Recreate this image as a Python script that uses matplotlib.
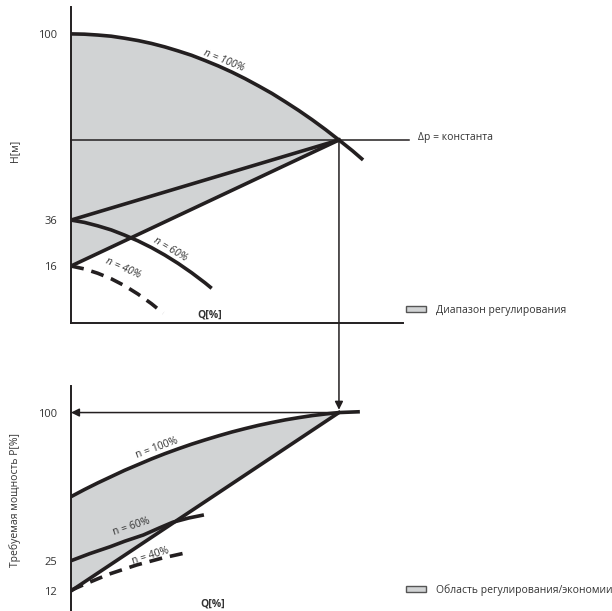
import matplotlib
matplotlib.use("Agg")
import matplotlib.pyplot as plt
import numpy as np
from matplotlib.patches import Patch, ConnectionPatch

plt.rcParams['font.family'] = ['Open Sans', 'DejaVu Sans']

# ---- top panel: head H vs flow Q (schematic, Q in % of operating point) ----
q_n100 = [0, 5, 10, 15, 20, 25, 30, 35, 40, 45, 50, 55, 60, 65, 70, 75, 80,
          85, 90, 95, 100, 105, 109]
h_n100 = [100, 99.9, 99.6, 99.2, 98.5, 97.7, 96.7, 95.5, 94.1, 92.6, 90.8,
          88.9, 86.8, 84.5, 82.0, 79.4, 76.5, 73.5, 70.3, 66.9, 63.3, 59.6, 56.4]
q_n60 = [0, 5, 10, 15, 20, 25, 30, 35, 40, 45, 50, 52.5]
h_n60 = [35.6, 34.8, 33.6, 32.2, 30.4, 28.4, 26.1, 23.5, 20.6, 17.4, 13.9, 12.0]
q_n40 = [0, 5, 10, 15, 20, 25, 30, 34.4]
h_n40 = [19.7, 18.7, 17.2, 15.3, 12.9, 10.0, 6.7, 3.4]
q_op, h_op = 100, 63.3          # operating point (dp = const)
h_upper_start = 35.6            # start of upper control line
h_lower_start = 19.7            # start of lower control line
h_ticks = [100, 35.6, 19.7]
h_ticklabels = ['100', '36', '16']

# ---- bottom panel: power P vs flow Q ----
q_p100 = [0, 5, 10, 15, 20, 25, 30, 35, 40, 45, 50, 55, 60, 65, 70, 75, 80,
          85, 90, 95, 100, 107.8]
p_p100 = [58.5, 62.0, 65.3, 68.4, 71.5, 74.3, 77.1, 79.7, 82.1, 84.4, 86.5,
          88.5, 90.4, 92.1, 93.7, 95.1, 96.4, 97.5, 98.5, 99.3, 100, 100.4]
q_p60 = [0, 7, 14.6, 20, 27.0, 33, 38.0, 44, 49.6]
p_p60 = [26.9, 30.4, 33.8, 36.5, 39.6, 43.1, 45.9, 48.0, 49.5]
q_p40 = [0, 4.6, 14, 24.5, 34, 43.2]
p_p40 = [12.3, 15.0, 20.2, 24.8, 28.2, 30.9]
p_line = [12, 100]              # straight control line from Q=0 to Q=100
p_ticks = [100, 26.9, 12]
p_ticklabels = ['100', '25', '12']

ink = '#231f20'
txt = '#333333'
fill = '#d1d3d4'
W, H = 612, 611
dash = (0, (3.6, 2.2))

fig = plt.figure(figsize=(6.12, 6.11), dpi=100)
ax1 = fig.add_axes([71 / W, 1 - 323 / H, 332 / W, 316 / H])
ax2 = fig.add_axes([71 / W, 0, 332 / W, (611 - 386) / H])

for ax in (ax1, ax2):
    ax.set_xlim(0, 123.9)
    ax.set_xticks([])
    ax.tick_params(axis='y', length=0, pad=10, labelsize=8, labelcolor=txt)
    for s in ('top', 'right'):
        ax.spines[s].set_visible(False)
    ax.spines['left'].set_linewidth(1.4)
    ax.spines['left'].set_color(ink)
    ax.patch.set_visible(False)

# top panel
ax1.set_ylim(0, 109.3)
ax1.spines['bottom'].set_linewidth(1.4)
ax1.spines['bottom'].set_color(ink)
ax1.set_yticks(h_ticks)
ax1.set_yticklabels(h_ticklabels)

n_op = q_n100.index(q_op) + 1
poly_q = q_n100[:n_op] + [q_op, 0]
poly_h = h_n100[:n_op] + [h_op, h_lower_start]
ax1.fill(poly_q, poly_h, color=fill, lw=0, zorder=1)

ax1.plot([0, 126.1], [h_op, h_op], color=ink, lw=1.1, zorder=2, clip_on=False)
ax1.plot(q_n100, h_n100, color=ink, lw=2.6, zorder=3, solid_capstyle='butt')
ax1.plot([0, q_op], [h_upper_start, h_op], color=ink, lw=2.6, zorder=3)
ax1.plot([0, q_op], [h_lower_start, h_op], color=ink, lw=2.6, zorder=3)
ax1.plot(q_n60, h_n60, color=ink, lw=2.6, zorder=3, solid_capstyle='butt')
ax1.plot(q_n40, h_n40, color=ink, lw=2.6, zorder=3, linestyle=dash)

ax1.text(57.1, 90.8, 'n = 100%', rotation=-22, ha='center', va='center',
         fontsize=7.5, style='italic', color=txt, rotation_mode='anchor')
ax1.text(37.2, 25.3, 'n = 60%', rotation=-31, ha='center', va='center',
         fontsize=7.5, style='italic', color=txt, rotation_mode='anchor')
ax1.text(19.3, 18.9, 'n = 40%', rotation=-24, ha='center', va='center',
         fontsize=7.5, style='italic', color=txt, rotation_mode='anchor')
ax1.text(129.5, 64.0, 'Δp = константа', ha='left', va='center', fontsize=7.5,
         color=txt, clip_on=False)
ax1.text(51.9, 2.8, 'Q[%]', ha='center', va='center', fontsize=7.5,
         fontweight='bold', color=txt)

# bottom panel
ax2.set_ylim(2.1, 113.1)
ax2.spines['bottom'].set_visible(False)
ax2.set_yticks(p_ticks)
ax2.set_yticklabels(p_ticklabels)

n_op2 = q_p100.index(q_op) + 1
poly_q2 = q_p100[:n_op2] + [0]
poly_p2 = p_p100[:n_op2] + [p_line[0]]
ax2.fill(poly_q2, poly_p2, color=fill, lw=0, zorder=1)

ax2.plot(q_p100, p_p100, color=ink, lw=2.6, zorder=3, solid_capstyle='butt')
ax2.plot([0, q_op], p_line, color=ink, lw=2.6, zorder=3)
ax2.plot(q_p60, p_p60, color=ink, lw=2.6, zorder=3, solid_capstyle='butt')
ax2.plot(q_p40, p_p40, color=ink, lw=2.6, zorder=3, linestyle=dash)

ax2.annotate('', xy=(0, 100), xytext=(q_op, 100),
             arrowprops=dict(arrowstyle='-|>', mutation_scale=12, lw=1.1,
                             color=ink, shrinkA=0, shrinkB=0), zorder=2)

ax2.text(32.0, 82.3, 'n = 100%', rotation=20, ha='center', va='center',
         fontsize=7.5, color=txt, rotation_mode='anchor')
ax2.text(22.6, 43.7, 'n = 60%', rotation=18, ha='center', va='center',
         fontsize=7.5, color=txt, rotation_mode='anchor')
ax2.text(29.7, 29.2, 'n = 40%', rotation=17, ha='center', va='center',
         fontsize=7.5, color=txt, rotation_mode='anchor')
ax2.text(53.0, 5.6, 'Q[%]', ha='center', va='center', fontsize=7.5,
         fontweight='bold', color=txt)

# vertical arrow from operating point down to power chart
con = ConnectionPatch(xyA=(q_op, h_op), coordsA=ax1.transData,
                      xyB=(q_op, 100), coordsB=ax2.transData,
                      arrowstyle='-|>', mutation_scale=12, lw=1.1,
                      color=ink, shrinkA=0, shrinkB=2, zorder=5)
fig.add_artist(con)

# axis titles
fig.text(15 / W, 1 - 151 / H, 'H[м]', rotation=90, ha='center', va='center',
         fontsize=7.5, color=txt)
fig.text(15 / W, 1 - 500 / H, 'Требуемая мощность P[%]', rotation=90,
         ha='center', va='center', fontsize=7.5, color=txt)

# legends
for label, ypx in [('Диапазон регулирования', 310),
                   ('Область регулирования/экономии', 590)]:
    fig.legend(handles=[Patch(facecolor=fill, edgecolor='#555555', lw=1.0, label=label)],
               loc='center left', bbox_to_anchor=(406 / W, 1 - ypx / H),
               frameon=False, fontsize=7.5, borderpad=0, borderaxespad=0,
               handlelength=1.9, handleheight=0.55, handletextpad=1.0,
               labelcolor=txt)

fig.savefig('out.png', dpi=100)
